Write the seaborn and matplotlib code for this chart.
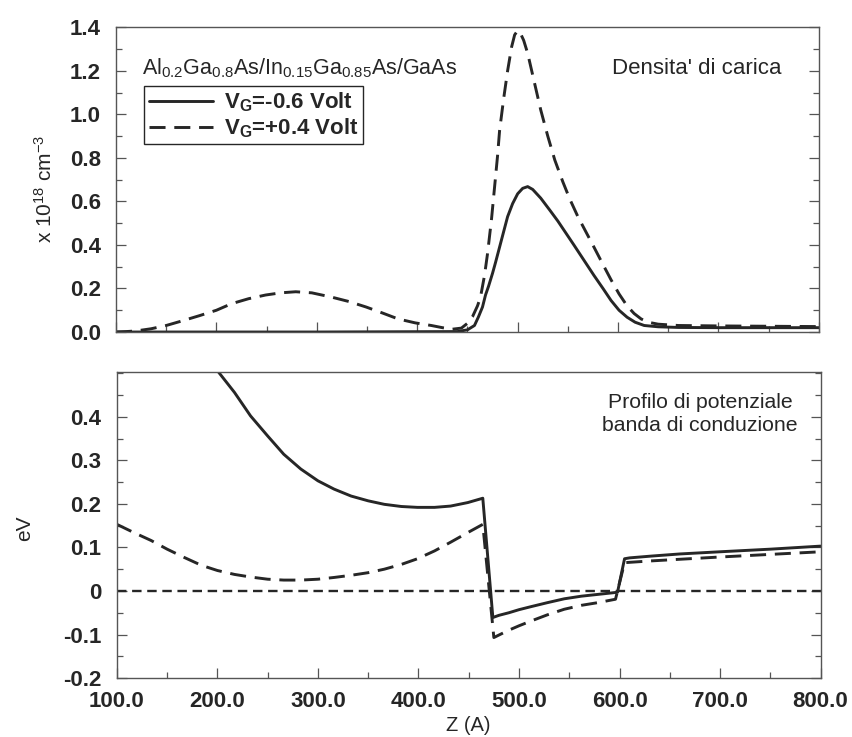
import numpy as np
import pandas as pd
import seaborn as sns
import matplotlib
matplotlib.use("Agg")
import matplotlib.pyplot as plt
from matplotlib.lines import Line2D
from matplotlib.ticker import MultipleLocator, FixedLocator

# ---- charge density (x 10^18 cm^-3) ----
z_dens_neg = [100, 300, 440, 450, 457, 461, 465, 468, 471, 475, 478, 482, 486,
              490, 495, 500, 505, 510, 515, 523, 532, 540, 548, 556, 566, 576,
              585, 593, 601, 609, 617, 626, 640, 660, 700, 800]
dens_neg = [0.0, 0.0, 0.002, 0.01, 0.03, 0.07, 0.115, 0.17, 0.21, 0.27, 0.32,
            0.39, 0.46, 0.53, 0.59, 0.635, 0.66, 0.668, 0.655, 0.615, 0.56,
            0.51, 0.455, 0.40, 0.33, 0.26, 0.20, 0.145, 0.10, 0.068, 0.045,
            0.03, 0.024, 0.021, 0.02, 0.02]

z_dens_pos = [100, 110, 120, 135, 150, 165, 183, 200, 215, 232, 249, 264, 279,
              295, 315, 332, 349, 365, 381, 398, 414, 425, 435, 444, 450, 455,
              460, 463, 467, 470, 474, 477, 480, 482, 486, 490, 494, 497, 500,
              503, 506, 510, 516, 523, 530, 537, 545, 552, 560, 568, 576, 585,
              593, 601, 609, 616, 623, 630, 640, 660, 700, 800]
dens_pos = [0.0, 0.002, 0.005, 0.015, 0.03, 0.05, 0.075, 0.10, 0.13, 0.153,
            0.17, 0.18, 0.185, 0.18, 0.16, 0.14, 0.115, 0.088, 0.06, 0.042,
            0.03, 0.02, 0.013, 0.018, 0.04, 0.07, 0.12, 0.16, 0.26, 0.36, 0.52,
            0.665, 0.81, 0.925, 1.07, 1.20, 1.31, 1.365, 1.385, 1.37, 1.34,
            1.28, 1.16, 1.02, 0.90, 0.79, 0.69, 0.61, 0.53, 0.46, 0.39, 0.31,
            0.24, 0.175, 0.12, 0.085, 0.06, 0.045, 0.036, 0.03, 0.028, 0.025]

# ---- conduction band profile (eV) ----
z_pot_neg = [200, 217, 233, 250, 266, 283, 300, 316, 333, 350, 366, 383, 399,
             416, 432, 449, 464, 474, 480, 490, 500, 512, 528, 545, 562, 578,
             590, 598, 605, 610, 631, 660, 700, 750, 800]
pot_neg = [0.506, 0.456, 0.402, 0.356, 0.314, 0.28, 0.253, 0.234, 0.218,
           0.207, 0.199, 0.194, 0.192, 0.192, 0.195, 0.203, 0.213, -0.061,
           -0.056, -0.05, -0.043, -0.036, -0.027, -0.018, -0.012, -0.008,
           -0.005, -0.003, 0.074, 0.076, 0.08, 0.085, 0.09, 0.096, 0.103]

z_pot_pos = [100, 117, 134, 150, 167, 184, 200, 217, 233, 250, 266, 283, 300,
             316, 333, 350, 366, 383, 399, 416, 432, 449, 464, 475, 482, 490,
             500, 512, 528, 545, 562, 578, 596, 605, 631, 700, 750, 800]
pot_pos = [0.153, 0.134, 0.116, 0.096, 0.077, 0.059, 0.047, 0.038, 0.032,
           0.027, 0.025, 0.025, 0.027, 0.031, 0.036, 0.042, 0.05, 0.061,
           0.074, 0.092, 0.112, 0.134, 0.153, -0.107, -0.099, -0.09, -0.08,
           -0.069, -0.055, -0.042, -0.033, -0.027, -0.019, 0.065, 0.069,
           0.078, 0.084, 0.09]

z_fermi = [100, 800]
fermi = [0.0, 0.0]

series_labels = [r"V$_G$=-0.6 Volt", r"V$_G$=+0.4 Volt"]
x_ticks = [100, 200, 300, 400, 500, 600, 700, 800]
x_ticklabels = ["100.0", "200.0", "300.0", "400.0", "500.0", "600.0", "700.0", "800.0"]
top_yticks = [0.0, 0.2, 0.4, 0.6, 0.8, 1.0, 1.2, 1.4]
top_yticklabels = ["0.0", "0.2", "0.4", "0.6", "0.8", "1.0", "1.2", "1.4"]
bot_yticks = [-0.2, -0.1, 0.0, 0.1, 0.2, 0.3, 0.4]
bot_yticklabels = ["-0.2", "-0.1", "0", "0.1", "0.2", "0.3", "0.4"]

sns.set_theme(style="ticks")
plt.rcParams["font.family"] = ["Liberation Sans", "DejaVu Sans"]
plt.rcParams["mathtext.default"] = "regular"

INK = "#262626"
SPINE = "#555555"
LW = 2.1
DASH = (0, (5.5, 3.0))
SHORT_DASH = (0, (4.0, 2.4))

fig = plt.figure(figsize=(8.53, 7.37), dpi=100)
ax1 = fig.add_axes([0.136, 0.5495, 0.824, 0.4135])
ax2 = fig.add_axes([0.137, 0.080, 0.825, 0.4153])

# charge density panel
sns.lineplot(x=z_dens_neg, y=dens_neg, ax=ax1, color=INK, linewidth=LW, sort=False)
sns.lineplot(x=z_dens_pos, y=dens_pos, ax=ax1, color=INK, linewidth=LW,
             linestyle=DASH, sort=False)

# conduction band panel
sns.lineplot(x=z_fermi, y=fermi, ax=ax2, color=INK, linewidth=1.7,
             linestyle=SHORT_DASH, sort=False)
sns.lineplot(x=z_pot_neg, y=pot_neg, ax=ax2, color=INK, linewidth=LW, sort=False)
sns.lineplot(x=z_pot_pos, y=pot_pos, ax=ax2, color=INK, linewidth=LW,
             linestyle=DASH, sort=False)

for ax in (ax1, ax2):
    ax.set_xlim(100, 800)
    ax.xaxis.set_major_locator(FixedLocator(x_ticks))
    ax.xaxis.set_minor_locator(MultipleLocator(50))
    ax.tick_params(which="both", direction="in", left=True, right=True,
                   bottom=True, top=False, color=SPINE, width=0.9)
    ax.tick_params(which="major", length=7)
    ax.tick_params(which="minor", length=4)
    ax.tick_params(axis="both", which="major", labelsize=16, labelcolor=INK,
                   labelright=False)
    ax.tick_params(axis="y", which="major", pad=11)
    for s in ax.spines.values():
        s.set_color(SPINE)
        s.set_linewidth(1.0)
    ax.set_facecolor("white")

ax1.set_ylim(0, 1.4)
ax1.yaxis.set_major_locator(FixedLocator(top_yticks))
ax1.set_yticklabels(top_yticklabels, fontweight="bold")
ax1.yaxis.set_minor_locator(MultipleLocator(0.1))
ax1.set_xticklabels([])
ax1.set_xlabel("")
ax1.set_ylabel(r"x 10$^{18}$ cm$^{-3}$", fontsize=15, color=INK)
ax1.yaxis.set_label_coords(-0.086, 0.47)

ax2.set_ylim(-0.2, 0.503)
ax2.yaxis.set_major_locator(FixedLocator(bot_yticks))
ax2.set_yticklabels(bot_yticklabels, fontweight="bold")
ax2.yaxis.set_minor_locator(MultipleLocator(0.05))
ax2.set_xticklabels(x_ticklabels, fontweight="bold")
ax2.tick_params(axis="x", which="major", pad=9)
ax2.set_xlabel("Z (A)", fontsize=14.5, color=INK, labelpad=3)
ax2.set_ylabel("eV", fontsize=15, color=INK)
ax2.yaxis.set_label_coords(-0.117, 0.49)

ax1.text(0.037, 0.865, r"Al$_{0.2}$Ga$_{0.8}$As/In$_{0.15}$Ga$_{0.85}$As/GaAs",
         transform=ax1.transAxes, fontsize=15.5, color=INK, ha="left", va="center")
ax1.text(0.947, 0.865, "Densita' di carica", transform=ax1.transAxes,
         fontsize=16, color=INK, ha="right", va="center")
ax2.text(0.829, 0.862, "Profilo di potenziale\nbanda di conduzione",
         transform=ax2.transAxes, fontsize=15.3, color=INK, ha="center",
         va="center", linespacing=1.3)

handles = [Line2D([], [], color=INK, linewidth=LW),
           Line2D([], [], color=INK, linewidth=LW, linestyle=DASH)]
leg = ax1.legend(handles, series_labels, loc="upper left",
                 bbox_to_anchor=(0.04, 0.807), frameon=True, fancybox=False,
                 edgecolor=INK, framealpha=1, handlelength=2.9, handletextpad=0.5,
                 borderpad=0.2, labelspacing=0.1, borderaxespad=0.0,
                 prop={"size": 16, "weight": "bold"})
leg.get_frame().set_linewidth(1.0)
for t in leg.get_texts():
    t.set_color(INK)

fig.savefig("out.png", dpi=100, facecolor="white")
